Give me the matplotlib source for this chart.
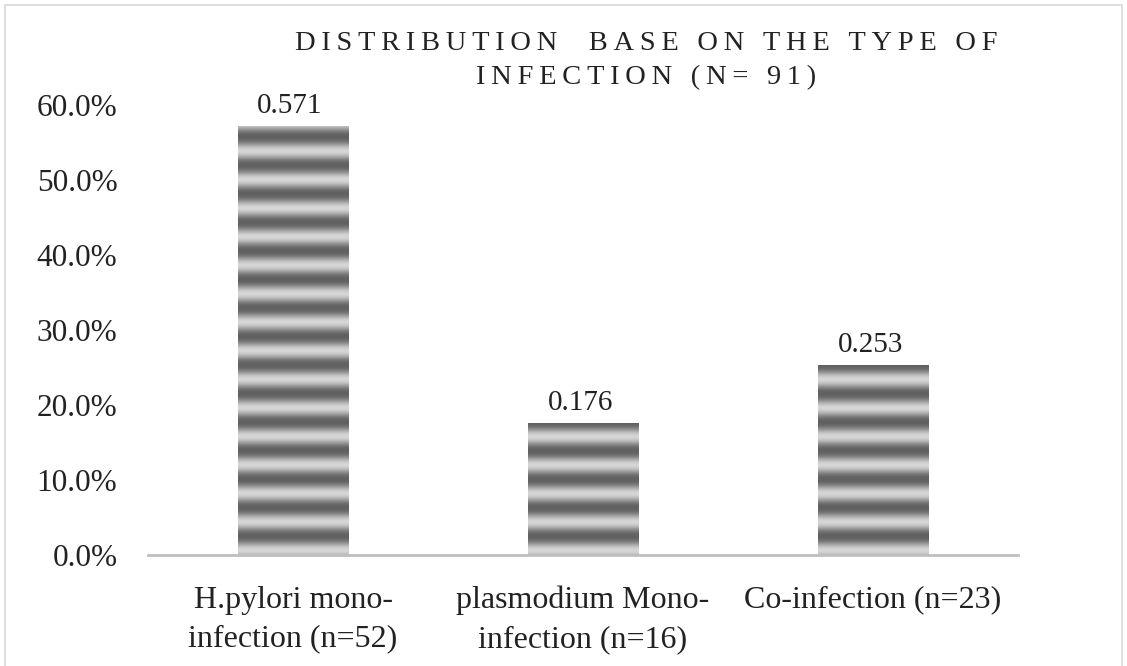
import numpy as np
import matplotlib
matplotlib.use("Agg")
import matplotlib.pyplot as plt
from matplotlib.patches import Rectangle

categories = ["H.pylori mono-\ninfection (n=52)", "plasmodium Mono-\ninfection (n=16)", "Co-infection (n=23)"]
values = [0.571, 0.176, 0.253]
value_labels = ["0.571", "0.176", "0.253"]
yticks = [0.0, 0.1, 0.2, 0.3, 0.4, 0.5, 0.6]
ytick_labels = ["0.0%", "10.0%", "20.0%", "30.0%", "40.0%", "50.0%", "60.0%"]
title_lines = ["DISTRIBUTION  BASE ON THE TYPE OF", "INFECTION (N= 91)"]

plt.rcParams['font.family'] = ['Liberation Serif', 'DejaVu Serif']

fig = plt.figure(figsize=(11.27, 6.66), dpi=100)
fig.patches.append(Rectangle((0.004, -0.01), 0.992, 1.003, transform=fig.transFigure,
                             fill=False, edgecolor='#d9d9d9', linewidth=1.2))
ax = fig.add_axes([148/1127, 1-555/666, 870/1127, (555-105)/666])
ax.set_xlim(-0.5, 2.5)
ax.set_ylim(0, 0.6)

width = 0.382
period = 0.038
dark = np.array([0.38, 0.38, 0.38])
light = np.array([0.84, 0.84, 0.84])
for i, v in enumerate(values):
    x0 = i - width/2
    ys = np.linspace(v, 0, 800)
    t = 0.5 + 0.5*np.cos(2*np.pi*(ys - 0.006)/period)
    t = t**1.2
    img = (dark[None, :]*(1-t[:, None]) + light[None, :]*t[:, None])
    img = np.repeat(img[:, None, :], 2, axis=1)
    ax.imshow(img, extent=(x0, x0+width, 0, v), aspect='auto', interpolation='bilinear', zorder=2)
    ax.text(i - 0.01, v + 0.010, value_labels[i], ha='center', va='bottom', fontsize=21, color='#222222')

ax.set_xlim(-0.5, 2.5)
ax.set_ylim(0, 0.6)
ax.set_yticks(yticks)
ax.set_yticklabels(ytick_labels, fontsize=22.5, color='#222222')
ax.set_xticks(range(len(categories)))
ax.set_xticklabels(categories, fontsize=23, color='#222222', linespacing=1.45)
ax.tick_params(axis='both', length=0)
ax.tick_params(axis='y', pad=22)
ax.tick_params(axis='x', pad=22)
for s in ['top', 'right', 'left']:
    ax.spines[s].set_visible(False)
ax.spines['bottom'].set_color('#bfbfbf')
ax.spines['bottom'].set_linewidth(2)
ax.spines['bottom'].set_zorder(3)

sp = '\u2009'
for k, line in enumerate(title_lines):
    spaced = sp.join(line)
    fig.text(646/1127, 1-(44 + 34*k)/666, spaced, ha='center', va='center', fontsize=20.5,
             color='#222222')

fig.savefig("out.png", dpi=100)
